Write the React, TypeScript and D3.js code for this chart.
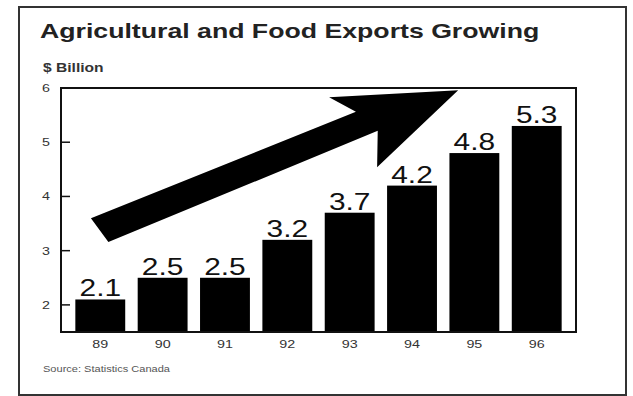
import React from "react";
import * as d3 from "d3";

const years = ["89", "90", "91", "92", "93", "94", "95", "96"];
const exportsBillion = [2.1, 2.5, 2.5, 3.2, 3.7, 4.2, 4.8, 5.3];
const yTicks = [2, 3, 4, 5, 6];
// decorative trend arrow outline, in (bar index, $ billion) units
const arrowIdx = [-0.15, 0.13, 4.45, 4.44, 5.74, 3.67, 4.1];
const arrowVal = [3.6, 3.16, 5.21, 4.54, 5.96, 5.83, 5.56];

const W = 633;
const H = 396;
const plot = { left: 61, right: 576, top: 88, bottom: 332 };
const SX = 1.3; // horizontal text stretch of the original

export default function App() {
  const x = d3
    .scaleBand<string>()
    .domain(years)
    .range([plot.left, plot.right])
    .paddingInner(0.2)
    .paddingOuter(0.23);
  const y = d3.scaleLinear().domain([1.5, 6]).range([plot.bottom, plot.top]);
  const step = x.step();
  const c0 = (x(years[0]) as number) + x.bandwidth() / 2;
  const xi = d3.scaleLinear().domain([0, 1]).range([c0, c0 + step]);
  const arrowPts: [number, number][] = arrowIdx.map((v, i) => [xi(v), y(arrowVal[i])]);
  const arrowPath = d3.line()(arrowPts) + "Z";

  const font = "Arial, 'Liberation Sans', sans-serif";
  const T = (px: number, py: number, anchor: string, props: any, txt: string, sx: number = SX) => (
    <g transform={`translate(${px},${py}) scale(${sx},1)`}>
      <text textAnchor={anchor} {...props}>
        {txt}
      </text>
    </g>
  );

  return (
    <svg
      width={W}
      height={H}
      style={{ position: "absolute", left: 0, top: 0, background: "#fff" }}
      fontFamily={font}
    >
      <rect x={19} y={7} width={607} height={388} fill="#fff" stroke="#333" strokeWidth={2} />
      {T(40, 38, "start", { fontSize: 21, fontWeight: "bold", fill: "#222" }, "Agricultural and Food Exports Growing", 1.27)}
      {T(43, 72, "start", { fontSize: 12, fontWeight: "bold", fill: "#333" }, "$ Billion")}

      <defs>
        <clipPath id="plotClip">
          <rect x={plot.left} y={plot.top} width={plot.right - plot.left} height={plot.bottom - plot.top} />
        </clipPath>
      </defs>

      {exportsBillion.map((v, i) => (
        <rect
          key={years[i]}
          x={x(years[i])}
          y={y(v)}
          width={x.bandwidth()}
          height={plot.bottom - y(v)}
          fill="#000"
        />
      ))}
      {exportsBillion.map((v, i) => (
        <React.Fragment key={"l" + years[i]}>
          {T((x(years[i]) as number) + x.bandwidth() / 2, y(v) - 3, "middle", { fontSize: 23, fill: "#111" }, v.toFixed(1))}
        </React.Fragment>
      ))}

      <path d={arrowPath} fill="#000" clipPath="url(#plotClip)" />

      <rect
        x={plot.left}
        y={plot.top}
        width={plot.right - plot.left}
        height={plot.bottom - plot.top}
        fill="none"
        stroke="#111"
        strokeWidth={2}
      />
      {yTicks.map((t) => (
        <g key={t}>
          <line x1={plot.left} x2={plot.left + 9} y1={y(t)} y2={y(t)} stroke="#111" strokeWidth={1.5} />
          {T(plot.left - 11, y(t) + 4, "end", { fontSize: 11, fill: "#333" }, String(t))}
        </g>
      ))}
      {years.map((yr) => (
        <React.Fragment key={"x" + yr}>
          {T((x(yr) as number) + x.bandwidth() / 2, 348, "middle", { fontSize: 11, fill: "#333" }, yr)}
        </React.Fragment>
      ))}
      {T(43, 372, "start", { fontSize: 8.5, fill: "#555" }, "Source:  Statistics Canada")}
    </svg>
  );
}
